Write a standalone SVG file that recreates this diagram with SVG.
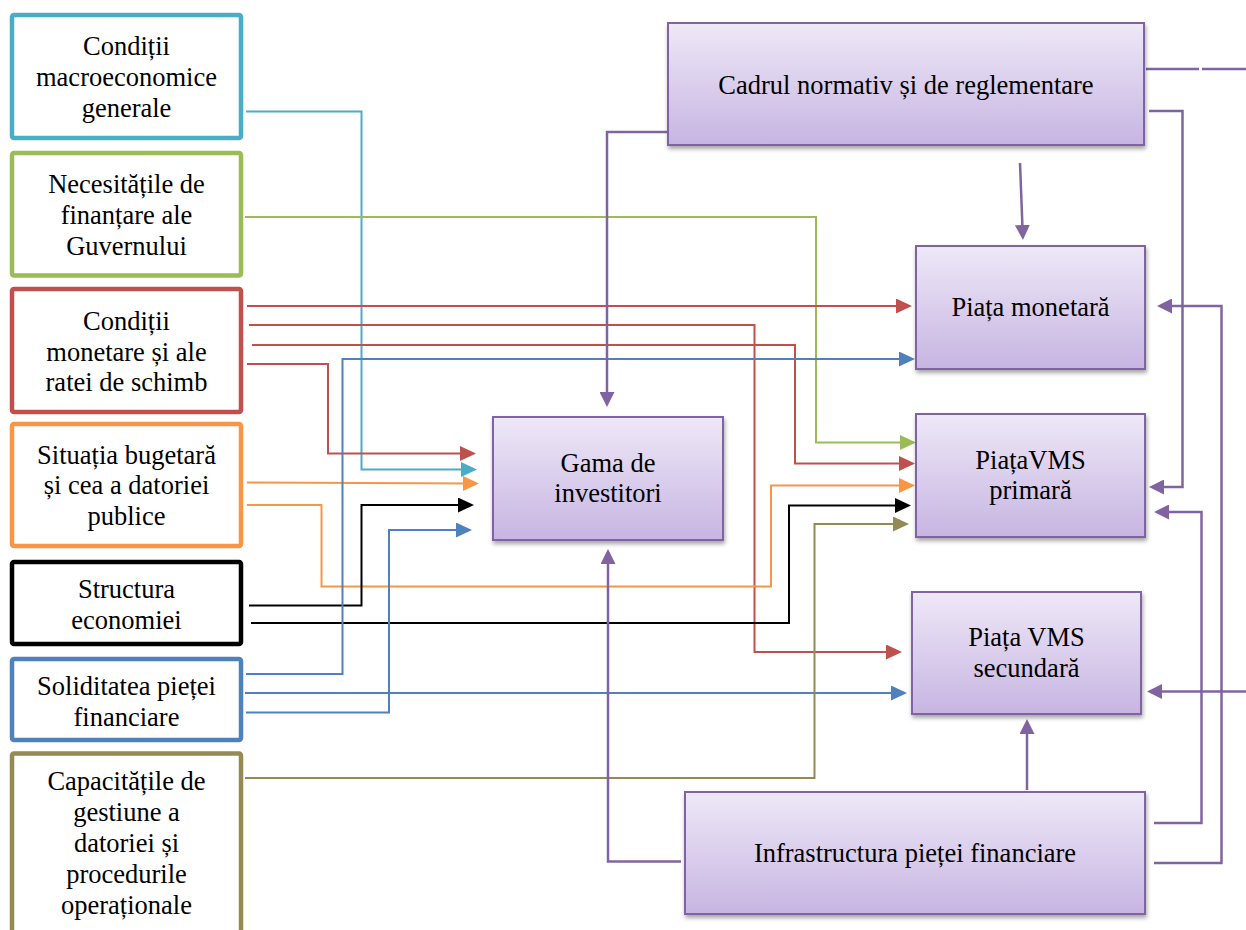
<svg xmlns="http://www.w3.org/2000/svg" width="1246" height="930" viewBox="0 0 1246 930">
<style>
.lbl{font-family:"Liberation Serif","Times New Roman",serif;font-size:26.5px;fill:#000;text-anchor:middle}
.lb{fill:#fff;stroke-width:4.5}
.pb{fill:url(#pg);stroke:#8064A2;stroke-width:2;filter:url(#sh)}
.c{fill:none;stroke-width:2;stroke-linejoin:miter}
.p{fill:none;stroke:#8064A2;stroke-width:2.5}
</style>
<defs>
<linearGradient id="pg" x1="0" y1="0" x2="0" y2="1">
<stop offset="0" stop-color="#EEE8F7"/>
<stop offset="1" stop-color="#C7B5E2"/>
</linearGradient>
<filter id="sh" x="-10%" y="-10%" width="130%" height="140%">
<feDropShadow dx="1" dy="3" stdDeviation="2" flood-color="#000" flood-opacity="0.35"/>
</filter>
<marker id="m-red" viewBox="0 0 16 15" refX="12" refY="7.5" markerWidth="16" markerHeight="15" markerUnits="userSpaceOnUse" orient="auto"><path d="M0,0 L16,7.5 L0,15 z" fill="#C0504D"/></marker>
<marker id="m-cyan" viewBox="0 0 16 15" refX="12" refY="7.5" markerWidth="16" markerHeight="15" markerUnits="userSpaceOnUse" orient="auto"><path d="M0,0 L16,7.5 L0,15 z" fill="#4BACC6"/></marker>
<marker id="m-green" viewBox="0 0 16 15" refX="12" refY="7.5" markerWidth="16" markerHeight="15" markerUnits="userSpaceOnUse" orient="auto"><path d="M0,0 L16,7.5 L0,15 z" fill="#9BBB59"/></marker>
<marker id="m-orange" viewBox="0 0 16 15" refX="12" refY="7.5" markerWidth="16" markerHeight="15" markerUnits="userSpaceOnUse" orient="auto"><path d="M0,0 L16,7.5 L0,15 z" fill="#F79646"/></marker>
<marker id="m-black" viewBox="0 0 16 15" refX="12" refY="7.5" markerWidth="16" markerHeight="15" markerUnits="userSpaceOnUse" orient="auto"><path d="M0,0 L16,7.5 L0,15 z" fill="#000"/></marker>
<marker id="m-blue" viewBox="0 0 16 15" refX="12" refY="7.5" markerWidth="16" markerHeight="15" markerUnits="userSpaceOnUse" orient="auto"><path d="M0,0 L16,7.5 L0,15 z" fill="#4F81BD"/></marker>
<marker id="m-olive" viewBox="0 0 16 15" refX="12" refY="7.5" markerWidth="16" markerHeight="15" markerUnits="userSpaceOnUse" orient="auto"><path d="M0,0 L16,7.5 L0,15 z" fill="#948A54"/></marker>
<marker id="m-purple" viewBox="0 0 15 15" refX="11" refY="7.5" markerWidth="15" markerHeight="15" markerUnits="userSpaceOnUse" orient="auto"><path d="M0,0 L15,7.5 L0,15 z" fill="#8064A2"/></marker>
</defs>
<rect width="1246" height="930" fill="#fff"/>

<g id="connectors">
<path class="c" stroke="#4BACC6" d="M246,111.5 H361.5 V469.5 H473" marker-end="url(#m-cyan)"/>
<path class="c" stroke="#9BBB59" d="M245,217 H816 V442.5 H912" marker-end="url(#m-green)"/>
<path class="c" stroke="#C0504D" d="M247,306 H908" marker-end="url(#m-red)"/>
<path class="c" stroke="#C0504D" d="M249,325 H754.5 V652 H898" marker-end="url(#m-red)"/>
<path class="c" stroke="#C0504D" d="M252,345 H795 V463.5 H911" marker-end="url(#m-red)"/>
<path class="c" stroke="#C0504D" d="M247,364 H328 V453.5 H472" marker-end="url(#m-red)"/>
<path class="c" stroke="#F79646" d="M247,482.5 L475,483.5" marker-end="url(#m-orange)"/>
<path class="c" stroke="#F79646" stroke-width="1.7" d="M247,505 H321.5 V586.5 H771 V485.5 H911" marker-end="url(#m-orange)"/>
<path class="c" stroke="#000" d="M249,605.5 H361.5 V505 H470" marker-end="url(#m-black)"/>
<path class="c" stroke="#000" d="M251,623 H789 V505.5 H907" marker-end="url(#m-black)"/>
<path class="c" stroke="#4F81BD" d="M246,674 H342.5 V359 H911" marker-end="url(#m-blue)"/>
<path class="c" stroke="#4F81BD" d="M245,693 H903" marker-end="url(#m-blue)"/>
<path class="c" stroke="#4F81BD" d="M246,712.5 H389 V530 H468" marker-end="url(#m-blue)"/>
<path class="c" stroke="#948A54" d="M245,778 H814.5 V524 H905" marker-end="url(#m-olive)"/>
<path class="p" d="M668,132 H607 V403" marker-end="url(#m-purple)"/>
<path class="p" d="M1020,163 L1022.8,236" marker-end="url(#m-purple)"/>
<path class="p" d="M681,861.5 H608 V553" marker-end="url(#m-purple)"/>
<path class="p" d="M1027,790 V723" marker-end="url(#m-purple)"/>
<path class="p" stroke-width="2" d="M1146,69 H1199"/>
<path class="p" stroke-width="3" d="M1202,69 H1246"/>
<path class="p" d="M1149,111 H1182.5 V487 H1153" marker-end="url(#m-purple)"/>
<path class="p" d="M1154,863 H1221.5 V306 H1161" marker-end="url(#m-purple)"/>
<path class="p" d="M1154,823 H1201.5 V512 H1158" marker-end="url(#m-purple)"/>
<path class="p" d="M1246,691.5 H1151" marker-end="url(#m-purple)"/>
</g>

<g id="n-macro">
<rect class="lb" stroke="#4BACC6" x="12" y="15" width="229" height="123" rx="2"/>
<text class="lbl" x="126.5" y="55">Condiții</text>
<text class="lbl" x="126.5" y="86">macroeconomice</text>
<text class="lbl" x="126.5" y="117">generale</text>
</g>
<g id="n-necesitati">
<rect class="lb" stroke="#9BBB59" x="12" y="153" width="229" height="122.5" rx="2"/>
<text class="lbl" x="126.5" y="193">Necesitățile de</text>
<text class="lbl" x="126.5" y="224">finanțare ale</text>
<text class="lbl" x="126.5" y="255">Guvernului</text>
</g>
<g id="n-monetare">
<rect class="lb" stroke="#C0504D" x="12" y="289" width="229" height="123" rx="2"/>
<text class="lbl" x="126.5" y="330">Condiții</text>
<text class="lbl" x="126.5" y="360.5">monetare și ale</text>
<text class="lbl" x="126.5" y="391">ratei de schimb</text>
</g>
<g id="n-bugetara">
<rect class="lb" stroke="#F79646" x="12" y="424" width="229" height="122" rx="2"/>
<text class="lbl" x="126.5" y="463.5">Situația bugetară</text>
<text class="lbl" x="126.5" y="494">și cea a datoriei</text>
<text class="lbl" x="126.5" y="525">publice</text>
</g>
<g id="n-structura">
<rect class="lb" stroke="#000" x="12" y="562" width="229" height="82" rx="2"/>
<text class="lbl" x="126.5" y="598">Structura</text>
<text class="lbl" x="126.5" y="628.5">economiei</text>
</g>
<g id="n-soliditatea">
<rect class="lb" stroke="#4F81BD" x="12" y="659" width="229" height="81" rx="2"/>
<text class="lbl" x="126.5" y="695">Soliditatea pieței</text>
<text class="lbl" x="126.5" y="725.5">financiare</text>
</g>
<g id="n-capacitati">
<rect class="lb" stroke="#948A54" x="12" y="753.5" width="229" height="195" rx="2"/>
<text class="lbl" x="126.5" y="790">Capacitățile de</text>
<text class="lbl" x="126.5" y="821">gestiune a</text>
<text class="lbl" x="126.5" y="852">datoriei și</text>
<text class="lbl" x="126.5" y="883">procedurile</text>
<text class="lbl" x="126.5" y="914">operaționale</text>
</g>

<g id="n-cadrul">
<rect class="pb" x="668" y="23" width="476" height="122"/>
<text class="lbl" x="906" y="93.5">Cadrul normativ și de reglementare</text>
</g>
<g id="n-monetara">
<rect class="pb" x="916" y="246" width="229" height="123"/>
<text class="lbl" x="1030.5" y="316">Piața monetară</text>
</g>
<g id="n-primara">
<rect class="pb" x="916" y="414" width="229" height="123"/>
<text class="lbl" x="1030.5" y="468.5">PiațaVMS</text>
<text class="lbl" x="1030.5" y="499">primară</text>
</g>
<g id="n-secundara">
<rect class="pb" x="912" y="592" width="229" height="122"/>
<text class="lbl" x="1026.5" y="646">Piața VMS</text>
<text class="lbl" x="1026.5" y="677">secundară</text>
</g>
<g id="n-gama">
<rect class="pb" x="493" y="417" width="230" height="123"/>
<text class="lbl" x="608" y="472">Gama de</text>
<text class="lbl" x="608" y="502">investitori</text>
</g>
<g id="n-infra">
<rect class="pb" x="685" y="792" width="460" height="122"/>
<text class="lbl" x="915" y="862">Infrastructura pieței financiare</text>
</g>
</svg>
